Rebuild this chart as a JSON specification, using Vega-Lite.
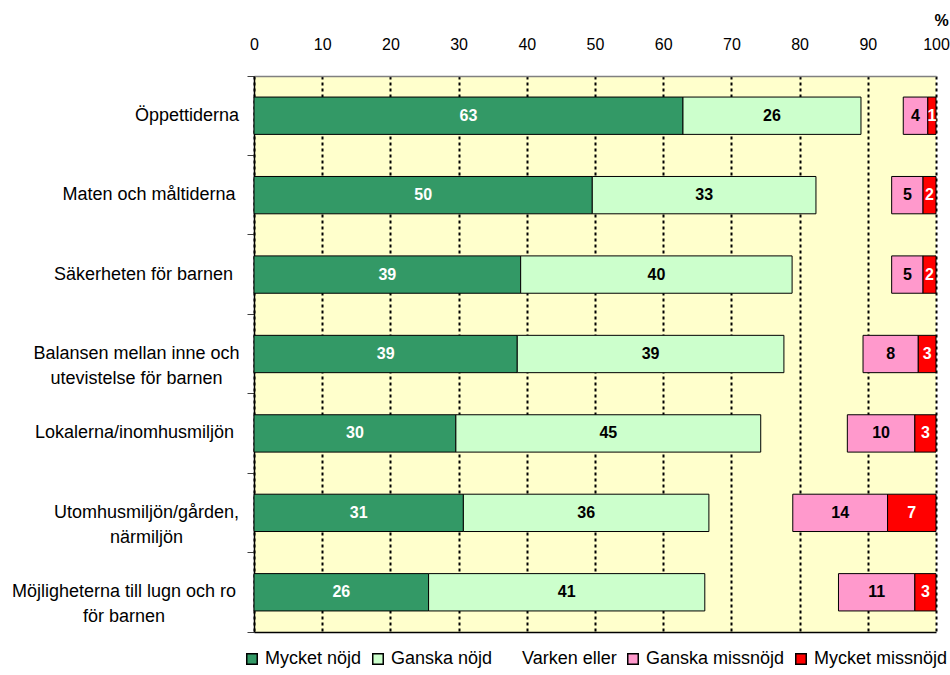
{
  "$schema": "https://vega.github.io/schema/vega-lite/v6.json",
  "autosize": {"type": "none"},
  "padding": {"left": 254, "top": 76, "right": 14, "bottom": 43},
  "width": 682,
  "height": 556,
  "background": "white",
  "config": {
    "view": {"fill": "#FFFFCC", "stroke": null},
    "font": "Liberation Sans",
    "legend": {"layout": {"bottom": {"anchor": "middle"}}}
  },
  "data": {
    "values": [
      {"cat": "Öppettiderna", "resp": "Mycket nöjd", "order": 1, "value": 62.9},
      {"cat": "Öppettiderna", "resp": "Ganska nöjd", "order": 2, "value": 26.1},
      {"cat": "Öppettiderna", "resp": "Varken eller", "order": 3, "value": 6.2},
      {"cat": "Öppettiderna", "resp": "Ganska missnöjd", "order": 4, "value": 3.6},
      {"cat": "Öppettiderna", "resp": "Mycket missnöjd", "order": 5, "value": 1.2},
      {"cat": "Maten och måltiderna", "resp": "Mycket nöjd", "order": 1, "value": 49.6},
      {"cat": "Maten och måltiderna", "resp": "Ganska nöjd", "order": 2, "value": 32.8},
      {"cat": "Maten och måltiderna", "resp": "Varken eller", "order": 3, "value": 11.1},
      {"cat": "Maten och måltiderna", "resp": "Ganska missnöjd", "order": 4, "value": 4.6},
      {"cat": "Maten och måltiderna", "resp": "Mycket missnöjd", "order": 5, "value": 1.9},
      {"cat": "Säkerheten för barnen", "resp": "Mycket nöjd", "order": 1, "value": 39.1},
      {"cat": "Säkerheten för barnen", "resp": "Ganska nöjd", "order": 2, "value": 39.8},
      {"cat": "Säkerheten för barnen", "resp": "Varken eller", "order": 3, "value": 14.6},
      {"cat": "Säkerheten för barnen", "resp": "Ganska missnöjd", "order": 4, "value": 4.6},
      {"cat": "Säkerheten för barnen", "resp": "Mycket missnöjd", "order": 5, "value": 1.9},
      {"cat": "Balansen mellan inne och utevistelse för barnen", "resp": "Mycket nöjd", "order": 1, "value": 38.6},
      {"cat": "Balansen mellan inne och utevistelse för barnen", "resp": "Ganska nöjd", "order": 2, "value": 39.1},
      {"cat": "Balansen mellan inne och utevistelse för barnen", "resp": "Varken eller", "order": 3, "value": 11.6},
      {"cat": "Balansen mellan inne och utevistelse för barnen", "resp": "Ganska missnöjd", "order": 4, "value": 8.1},
      {"cat": "Balansen mellan inne och utevistelse för barnen", "resp": "Mycket missnöjd", "order": 5, "value": 2.6},
      {"cat": "Lokalerna/inomhusmiljön", "resp": "Mycket nöjd", "order": 1, "value": 29.6},
      {"cat": "Lokalerna/inomhusmiljön", "resp": "Ganska nöjd", "order": 2, "value": 44.7},
      {"cat": "Lokalerna/inomhusmiljön", "resp": "Varken eller", "order": 3, "value": 12.7},
      {"cat": "Lokalerna/inomhusmiljön", "resp": "Ganska missnöjd", "order": 4, "value": 9.9},
      {"cat": "Lokalerna/inomhusmiljön", "resp": "Mycket missnöjd", "order": 5, "value": 3.1},
      {"cat": "Utomhusmiljön/gården, närmiljön", "resp": "Mycket nöjd", "order": 1, "value": 30.7},
      {"cat": "Utomhusmiljön/gården, närmiljön", "resp": "Ganska nöjd", "order": 2, "value": 36.0},
      {"cat": "Utomhusmiljön/gården, närmiljön", "resp": "Varken eller", "order": 3, "value": 12.3},
      {"cat": "Utomhusmiljön/gården, närmiljön", "resp": "Ganska missnöjd", "order": 4, "value": 13.9},
      {"cat": "Utomhusmiljön/gården, närmiljön", "resp": "Mycket missnöjd", "order": 5, "value": 7.1},
      {"cat": "Möjligheterna till lugn och ro för barnen", "resp": "Mycket nöjd", "order": 1, "value": 25.6},
      {"cat": "Möjligheterna till lugn och ro för barnen", "resp": "Ganska nöjd", "order": 2, "value": 40.5},
      {"cat": "Möjligheterna till lugn och ro för barnen", "resp": "Varken eller", "order": 3, "value": 19.6},
      {"cat": "Möjligheterna till lugn och ro för barnen", "resp": "Ganska missnöjd", "order": 4, "value": 11.2},
      {"cat": "Möjligheterna till lugn och ro för barnen", "resp": "Mycket missnöjd", "order": 5, "value": 3.1}
    ]
  },
  "resolve": {"axis": {"x": "independent"}},
  "layer": [
    {
      "mark": {"type": "bar", "height": {"band": 0.47}, "strokeWidth": 1},
      "encoding": {
        "y": {
          "field": "cat",
          "type": "nominal",
          "sort": null,
          "scale": {"paddingInner": 0, "paddingOuter": 0},
          "axis": {
            "title": null,
            "domainColor": "black",
            "domainWidth": 1.5,
            "ticks": true,
            "tickColor": "#404040",
            "tickSize": 7,
            "tickWidth": 1,
            "bandPosition": 1,
            "tickExtra": true,
            "labelFont": "Liberation Sans",
            "labelFontSize": 18,
            "labelColor": "black",
            "labelAlign": "center",
            "labelBaseline": "middle",
            "labelLineHeight": 25,
            "labelLimit": 400,
            "labelPadding": {
              "condition": [
                {"test": "datum.value == 'Öppettiderna'", "value": 60.5},
                {"test": "datum.value == 'Maten och måltiderna'", "value": 98.5},
                {"test": "datum.value == 'Säkerheten för barnen'", "value": 104},
                {"test": "datum.value == 'Balansen mellan inne och utevistelse för barnen'", "value": 111},
                {"test": "datum.value == 'Lokalerna/inomhusmiljön'", "value": 113},
                {"test": "datum.value == 'Utomhusmiljön/gården, närmiljön'", "value": 101}
              ],
              "value": 123.5
            },
            "labelExpr": "datum.value == 'Balansen mellan inne och utevistelse för barnen' ? ['Balansen mellan inne och', 'utevistelse för barnen'] : datum.value == 'Utomhusmiljön/gården, närmiljön' ? ['Utomhusmiljön/gården,', 'närmiljön'] : datum.value == 'Möjligheterna till lugn och ro för barnen' ? ['Möjligheterna till lugn och ro', 'för barnen'] : datum.label"
          }
        },
        "x": {
          "field": "value",
          "type": "quantitative",
          "stack": "zero",
          "scale": {"domain": [0, 100], "nice": false},
          "axis": {
            "orient": "top",
            "values": [0, 10, 20, 30, 40, 50, 60, 70, 80, 90, 100],
            "grid": true,
            "gridColor": "black",
            "gridDash": [3, 3],
            "gridWidth": 2,
            "ticks": false,
            "tickSize": 0,
            "domainColor": "#808080",
            "domainWidth": 1.5,
            "labelFont": "Liberation Sans",
            "labelFontSize": 16,
            "labelColor": "black",
            "labelPadding": 24,
            "labelFlush": false,
            "title": "%",
            "titleFont": "Liberation Sans",
            "titleFontSize": 16,
            "titleFontWeight": "bold",
            "titleColor": "black",
            "titleAngle": 0,
            "titleAlign": "center",
            "titleBaseline": "middle",
            "titleX": 687,
            "titleY": -56
          }
        },
        "order": {"field": "order", "type": "quantitative"},
        "color": {
          "field": "resp",
          "type": "nominal",
          "scale": {
            "domain": ["Mycket nöjd", "Ganska nöjd", "Varken eller", "Ganska missnöjd", "Mycket missnöjd"],
            "range": ["#339966", "#CCFFCC", "transparent", "#FF99CC", "#FF0000"]
          },
          "legend": {
            "orient": "bottom",
            "direction": "horizontal",
            "title": null,
            "offset": 18,
            "symbolType": "square",
            "symbolSize": 110,
            "symbolStrokeWidth": 1.5,
            "labelFont": "Liberation Sans",
            "labelFontSize": 18,
            "labelColor": "black",
            "labelLimit": 300,
            "labelOffset": 4,
            "columnPadding": 7
          }
        },
        "stroke": {
          "field": "resp",
          "type": "nominal",
          "scale": {
            "domain": ["Mycket nöjd", "Ganska nöjd", "Varken eller", "Ganska missnöjd", "Mycket missnöjd"],
            "range": ["black", "black", "transparent", "black", "black"]
          },
          "legend": {
            "orient": "bottom",
            "direction": "horizontal",
            "title": null
          }
        }
      }
    },
    {
      "mark": {"type": "text", "font": "Liberation Sans", "fontSize": 16, "fontWeight": "bold", "baseline": "middle", "align": "center"},
      "encoding": {
        "y": {"field": "cat", "type": "nominal", "sort": null},
        "x": {
          "field": "value",
          "type": "quantitative",
          "stack": "zero",
          "bandPosition": 0.5,
          "axis": {
            "orient": "bottom",
            "labels": false,
            "ticks": false,
            "grid": false,
            "title": null,
            "domainColor": "black",
            "domainWidth": 1.5
          }
        },
        "order": {"field": "order", "type": "quantitative"},
        "text": {
          "condition": {"test": "datum.resp == 'Varken eller'", "value": ""},
          "field": "value",
          "type": "quantitative",
          "format": ".0f"
        },
        "color": {
          "condition": {"test": "datum.resp == 'Mycket nöjd' || datum.resp == 'Mycket missnöjd'", "value": "white"},
          "value": "black"
        }
      }
    }
  ]
}
